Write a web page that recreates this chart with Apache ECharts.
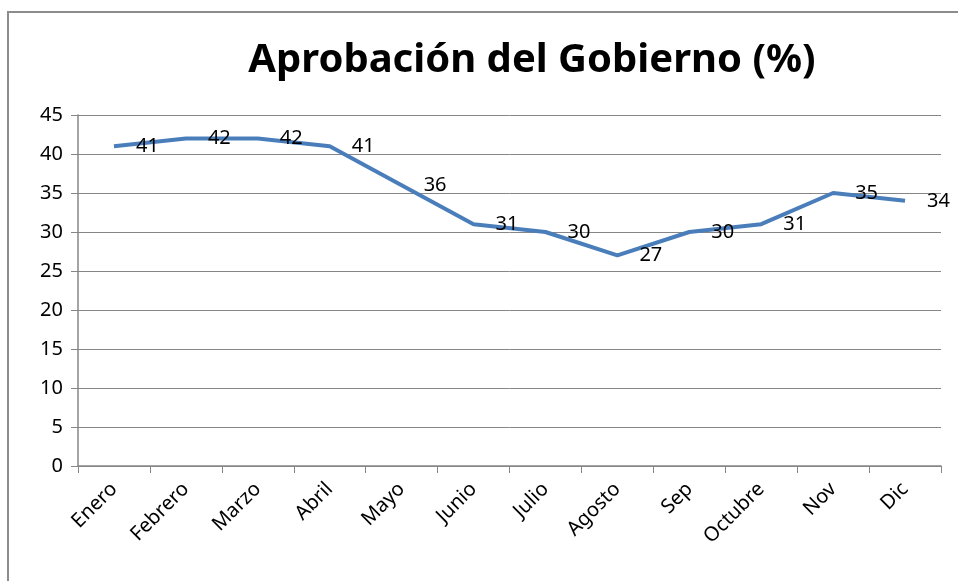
<!DOCTYPE html>
<html>
<head>
<meta charset="utf-8">
<script src="https://cdn.jsdelivr.net/npm/echarts@6/dist/echarts.min.js"></script>
<style>
  html, body { margin: 0; padding: 0; background: #fff; }
  .frame { position: absolute; left: 7px; top: 11px; width: 960px; height: 580px; border: 2px solid #8c8c8c; box-sizing: border-box; }
  #chart { position: absolute; left: 0; top: 0; width: 958px; height: 581px; }
</style>
</head>
<body>
<div class="frame"></div>
<div id="chart"></div>
<script>
const meses = ['Enero', 'Febrero', 'Marzo', 'Abril', 'Mayo', 'Junio', 'Julio', 'Agosto', 'Sep', 'Octubre', 'Nov', 'Dic']
const aprobacion = [41, 42, 42, 41, 36, 31, 30, 27, 30, 31, 35, 34]
const ejeY = { min: 0, max: 45, interval: 5 }

const myChart = echarts.init(document.getElementById('chart'))
const fuente = 'Noto Sans'
const option = {
  animation: false,
  title: {
    text: 'Aprobación del Gobierno (%)',
    left: 527,
    top: 36,
    textAlign: 'center',
    textStyle: {
      fontFamily: fuente,
      fontSize: 40,
      fontWeight: 'bold',
      color: '#000'
    }
  },
  grid: {
    left: 78,
    right: 17,
    top: 115,
    bottom: 115
  },
  xAxis: {
    type: 'category',
    data: meses,
    boundaryGap: true,
    axisLine: { lineStyle: { color: '#868686', width: 1.5 } },
    axisTick: { show: true, length: 7, lineStyle: { color: '#868686' } },
    axisLabel: {
      rotate: 45,
      margin: 20,
      fontFamily: fuente,
      fontSize: 20,
      color: '#000'
    }
  },
  yAxis: {
    type: 'value',
    min: ejeY.min,
    max: ejeY.max,
    interval: ejeY.interval,
    axisLine: { show: true, lineStyle: { color: '#868686', width: 1.5 } },
    axisTick: { show: true, length: 7, lineStyle: { color: '#868686' } },
    splitLine: { lineStyle: { color: '#868686', width: 1 } },
    axisLabel: {
      margin: 15,
      fontFamily: fuente,
      fontSize: 20,
      color: '#000'
    }
  },
  series: [{
    type: 'line',
    data: aprobacion,
    symbol: 'circle',
    symbolSize: 0,
    itemStyle: { color: '#4a7ebb' },
    lineStyle: { color: '#4a7ebb', width: 4 },
    label: {
      show: true,
      position: 'right',
      distance: 22,
      fontFamily: fuente,
      fontSize: 20,
      color: '#000'
    }
  }]
}
myChart.setOption(option)
</script>
</body>
</html>
